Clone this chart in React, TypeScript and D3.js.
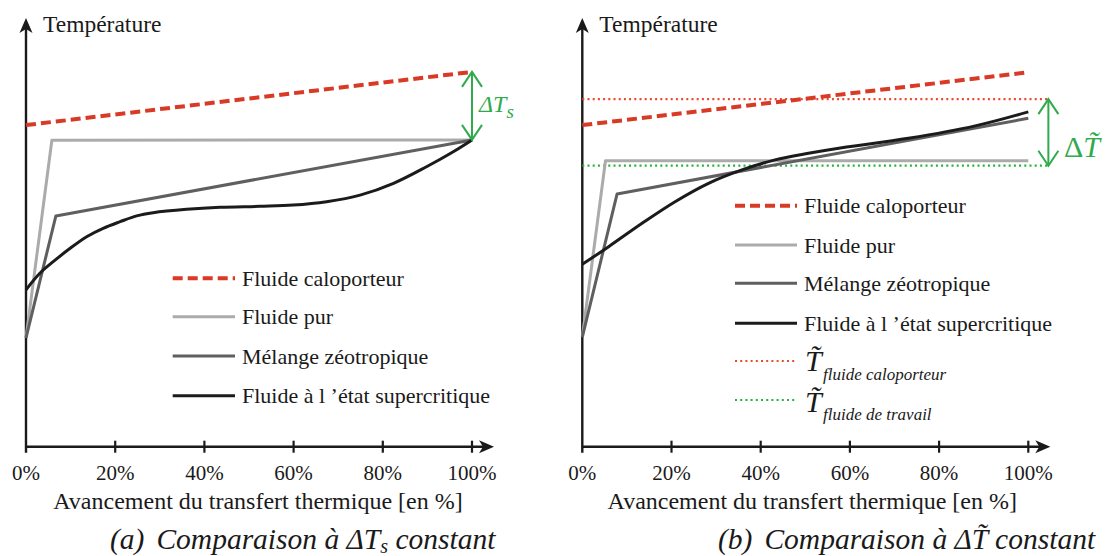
import React from "react";
import * as d3 from "d3";

// ---------- data ----------
const xTickValues = [0, 20, 40, 60, 80, 100];
const xTickLabels = ["0%", "20%", "40%", "60%", "80%", "100%"];
const yAxisTitle = "Température";
const xAxisTitle = "Avancement du transfert thermique [en %]";
const seriesNames = ["Fluide caloporteur", "Fluide pur", "Mélange zéotropique", "Fluide à l ’état supercritique"];
const meanNames = ["fluide caloporteur", "fluide de travail"];

// panel (a): [progress %, temperature]
const caloA: [number, number][] = [[0, 80.4], [100, 93.7]];
const purA: [number, number][] = [[0, 27.2], [5.8, 76.6], [100, 76.7]];
const melangeA: [number, number][] = [[0, 27.2], [6.7, 57.7], [100, 76.7]];
const superA: [number, number][] = [[0, 39.2], [3.1, 43.35], [6.1, 46.25], [9.9, 49.6], [13.6, 52.5], [17.3, 54.6], [21.1, 56.25], [24.8, 57.7], [28.5, 58.5], [36, 59.35], [43.5, 59.85], [52.5, 60.1], [59.9, 60.4], [67.4, 61.25], [74.9, 62.9], [82.4, 65.85], [89.8, 70.0], [95.8, 73.75], [100, 76.7]];

// panel (b)
const caloB: [number, number][] = [[0, 80.4], [100, 93.6]];
const purB: [number, number][] = [[0, 27.4], [5.2, 71.5], [100, 71.5]];
const melangeB: [number, number][] = [[0, 27.4], [7.8, 63.2], [100, 82.1]];
const superB: [number, number][] = [[0, 45.6], [5.9, 50.0], [13.4, 55.85], [20.8, 61.25], [28.3, 65.85], [35.8, 69.2], [43.2, 71.7], [50.7, 73.35], [58.2, 74.75], [73.1, 77.1], [88.1, 80.2], [100, 83.7]];
const meanCalo = 86.9;
const meanTravail = 70.25;
const meanLineEnd = 104.5;

// ---------- styles ----------
const FONT = "Liberation Serif";
const C_CALO = "#d83a26";
const C_PUR = "#ababab";
const C_MEL = "#5f5f5f";
const C_SUP = "#1b1b1b";
const C_TCALO = "#ea4a30";
const C_TTRAV = "#27b23d";
const C_GREEN = "#30aa4c";
const C_TEXT = "#1a1a1a";

const styleCalo = { stroke: C_CALO, strokeWidth: 4, strokeDasharray: "10 5" };
const stylePur = { stroke: C_PUR, strokeWidth: 3 };
const styleMel = { stroke: C_MEL, strokeWidth: 3 };
const styleSup = { stroke: C_SUP, strokeWidth: 3 };
const styleTcalo = { stroke: C_TCALO, strokeWidth: 2.2, strokeDasharray: "2 3.2" };
const styleTtrav = { stroke: C_TTRAV, strokeWidth: 2.2, strokeDasharray: "2 3.2" };

const Y0 = 446.7;
const yScale = d3.scaleLinear().domain([0, 100]).range([Y0, 46.7]);

const T = (props: any) => <text {...props} style={{ fontFamily: FONT }} />;

function Axes({ x0, xs, titleShift }: { x0: number; xs: d3.ScaleLinear<number, number>; titleShift: number }) {
  const tipX = xs(100) + 22;
  return (
    <g>
      <line x1={x0} y1={Y0 + 6} x2={x0} y2={26} stroke={C_TEXT} strokeWidth={2.4} />
      <path d={`M${x0},18 L${x0 + 6.5},33 L${x0},29 L${x0 - 6.5},33 Z`} fill={C_TEXT} />
      <line x1={x0} y1={Y0} x2={tipX - 8} y2={Y0} stroke={C_TEXT} strokeWidth={2.4} />
      <path d={`M${tipX},${Y0} L${tipX - 15},${Y0 - 6.5} L${tipX - 11},${Y0} L${tipX - 15},${Y0 + 6.5} Z`} fill={C_TEXT} />
      {xTickValues.map((v, i) => (
        <g key={v}>
          {v > 0 && <line x1={xs(v)} x2={xs(v)} y1={Y0 - 6} y2={Y0 + 6} stroke={C_TEXT} strokeWidth={2.2} />}
          <T x={xs(v)} y={480} fontSize={21} textAnchor="middle" fill={C_TEXT}>{xTickLabels[i]}</T>
        </g>
      ))}
      <T x={xs(50) + titleShift} y={509} fontSize={24} textAnchor="middle" fill={C_TEXT}>{xAxisTitle}</T>
      <T x={x0 + 17} y={31.5} fontSize={23.5} fill={C_TEXT}>{yAxisTitle}</T>
    </g>
  );
}

function Series({ xs, data, style, curve }: any) {
  const gen = d3.line<[number, number]>().x(d => xs(d[0])).y(d => yScale(d[1])).curve(curve || d3.curveLinear);
  return <path d={gen(data) || ""} fill="none" {...style} strokeLinejoin="round" />;
}

function DoubleArrow({ x, yTop, yBot }: { x: number; yTop: number; yBot: number }) {
  return (
    <g stroke={C_GREEN} strokeWidth={2} fill="none">
      <line x1={x} x2={x} y1={yTop} y2={yBot} />
      <polyline points={`${x - 10},${yTop + 15} ${x},${yTop} ${x + 10},${yTop + 15}`} />
      <polyline points={`${x - 10},${yBot - 15} ${x},${yBot} ${x + 10},${yBot - 15}`} />
    </g>
  );
}

function LegendRow({ x1, x2, y, style, label }: any) {
  return (
    <g>
      <line x1={x1} x2={x2} y1={y} y2={y} {...style} />
      <T x={x2 + 7} y={y + 7.5} fontSize={22} fill={C_TEXT}>{label}</T>
    </g>
  );
}

export default function App() {
  const xa = d3.scaleLinear().domain([0, 100]).range([26, 472]);
  const xb = d3.scaleLinear().domain([0, 100]).range([582.3, 1028.3]);
  const lineStylesMain = [styleCalo, stylePur, styleMel, styleSup];
  const legendYA = [278.3, 316.7, 356, 395.7];
  const legendYB = [205.7, 245, 283.3, 323.3];
  const smooth = d3.curveCatmullRom.alpha(0.5);
  return (
    <svg width={1106} height={556} style={{ position: "absolute", left: 0, top: 0, background: "#fff" }}>
      <rect x={0} y={0} width={1106} height={556} fill="#fff" />
      {/* panel a */}
      <Axes x0={26} xs={xa} titleShift={9} />
      <Series xs={xa} data={purA} style={stylePur} />
      <Series xs={xa} data={melangeA} style={styleMel} />
      <Series xs={xa} data={superA} style={styleSup} curve={smooth} />
      <Series xs={xa} data={caloA} style={styleCalo} />
      <DoubleArrow x={xa(100)} yTop={yScale(caloA[1][1])} yBot={yScale(purA[2][1])} />
      <T x={479} y={112} fontSize={24} fontStyle="italic" fill={C_GREEN}>
        ΔT<tspan fontSize={19} dy={6}>s</tspan>
      </T>
      {seriesNames.map((n, i) => (
        <LegendRow key={n} x1={172.7} x2={235} y={legendYA[i]} style={lineStylesMain[i]} label={n} />
      ))}
      <T x={110} y={549} fontSize={29.5} fontStyle="italic" fill={C_TEXT}>
        (a)<tspan dx={12}>Comparaison à ΔT</tspan><tspan fontSize={20} dy={4}>s</tspan><tspan dy={-4}> constant</tspan>
      </T>

      {/* panel b */}
      <Axes x0={582.3} xs={xb} titleShift={7} />
      <line x1={xb(0)} x2={xb(meanLineEnd)} y1={yScale(meanCalo)} y2={yScale(meanCalo)} {...styleTcalo} />
      <line x1={xb(0)} x2={xb(meanLineEnd)} y1={yScale(meanTravail)} y2={yScale(meanTravail)} {...styleTtrav} />
      <Series xs={xb} data={purB} style={stylePur} />
      <Series xs={xb} data={melangeB} style={styleMel} />
      <Series xs={xb} data={superB} style={styleSup} curve={smooth} />
      <Series xs={xb} data={caloB} style={styleCalo} />
      <DoubleArrow x={xb(meanLineEnd)} yTop={yScale(meanCalo)} yBot={yScale(meanTravail)} />
      <T x={1064} y={157} fontSize={30} fill={C_GREEN}>
        Δ<tspan fontStyle="italic">{"T\u0303"}</tspan>
      </T>
      {seriesNames.map((n, i) => (
        <LegendRow key={n} x1={735} x2={797} y={legendYB[i]} style={lineStylesMain[i]} label={n} />
      ))}
      <line x1={735} x2={797} y1={361} y2={361} {...styleTcalo} />
      <T x={805} y={371} fontSize={30} fontStyle="italic" fill={C_TEXT}>{"T\u0303"}</T>
      <T x={823} y={380} fontSize={17} fontStyle="italic" fill={C_TEXT}>{meanNames[0]}</T>
      <line x1={735} x2={797} y1={400} y2={400} {...styleTtrav} />
      <T x={805} y={411.7} fontSize={30} fontStyle="italic" fill={C_TEXT}>{"T\u0303"}</T>
      <T x={823} y={420} fontSize={17} fontStyle="italic" fill={C_TEXT}>{meanNames[1]}</T>
      <T x={718} y={549} fontSize={29.5} fontStyle="italic" fill={C_TEXT}>
        (b)<tspan dx={12}>{"Comparaison à ΔT\u0303 constant"}</tspan>
      </T>
    </svg>
  );
}
